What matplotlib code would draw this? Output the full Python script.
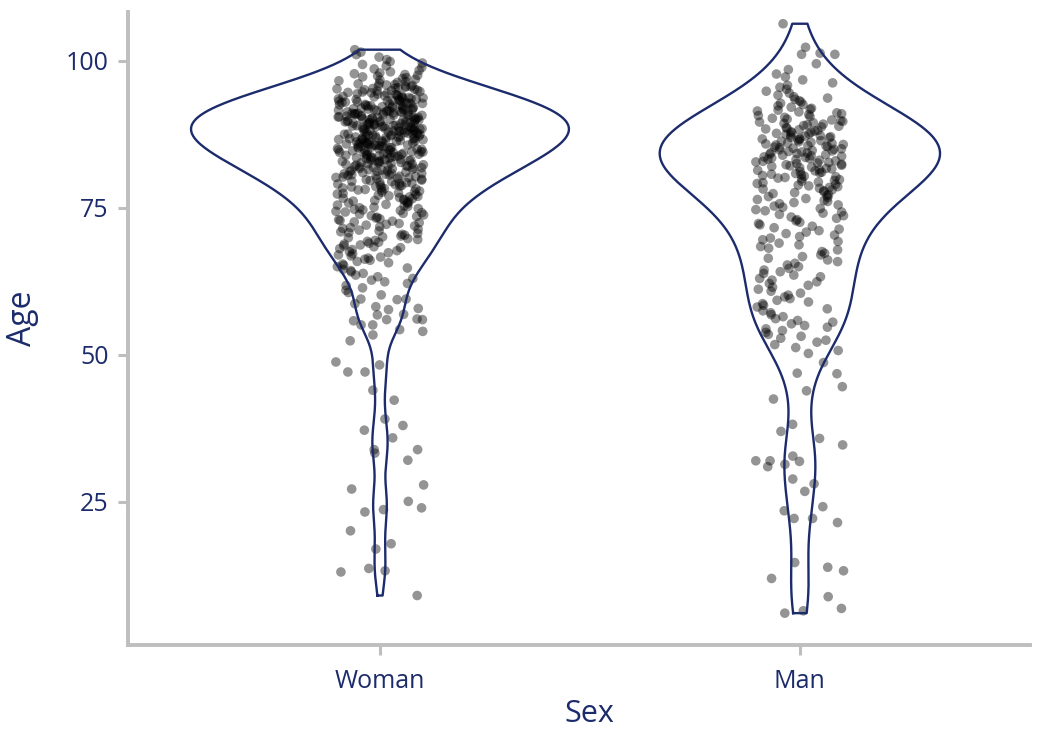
import numpy as np
import matplotlib.pyplot as plt

plt.rcParams['font.family'] = ['Open Sans', 'DejaVu Sans']

navy = '#1c2b6b'
axis_grey = '#bebebe'

groups = ['Woman', 'Man']
bw_adjust = [1.0, 1.0]

# Woman: low ages read one by one, the dense part as counts per age bin
woman_low = [59.5, 59.5, 59.4, 58.7, 58.2, 57.9, 57.7, 56.9, 56.8, 56.1, 56.0, 56.0,
             55.8, 55.1, 55.1, 54.3, 54.0, 53.4, 52.4, 48.8, 48.3, 47.1, 47.1, 44.0,
             42.3, 39.1, 38.0, 37.2, 35.9, 33.9, 33.9, 33.3, 32.1, 27.9, 27.2, 25.1,
             24.0, 23.7, 23.3, 20.1, 17.9, 17.0, 13.7, 13.3, 13.1, 9.1]
woman_edges = [60, 62, 64, 66, 68, 70, 72, 74, 76, 78, 80, 82, 84, 86, 88, 90,
               92, 94, 96, 98, 100, 102.1]
woman_counts = [5, 7, 9, 11, 13, 14, 15, 17, 20, 24, 29, 34, 39, 43, 45, 43,
                36, 27, 15, 8, 5]

# Man
man_low = [48.7, 46.9, 46.8, 44.6, 43.9, 42.5, 38.2, 37.0, 35.8, 34.7, 32.8, 32.0,
           32.0, 31.9, 31.4, 31.0, 28.9, 28.1, 26.8, 24.2, 23.5, 22.2, 22.2, 21.5,
           14.7, 13.9, 13.3, 12.0, 8.9, 6.9, 6.5, 6.1]
man_high = [101.1, 101.1, 101.3, 102.3, 106.3]
man_edges = [50, 52, 54, 56, 58, 60, 62, 64, 66, 68, 70, 72, 74, 76, 78, 80,
             82, 84, 86, 88, 90, 92, 94, 96, 98, 100]
man_counts = [4, 6, 7, 6, 7, 6, 7, 7, 7, 7, 8, 9, 10, 12, 15, 18, 21, 22, 21,
              17, 13, 9, 6, 4, 2]


def expand(edges, counts):
    out = []
    for lo, hi, n in zip(edges[:-1], edges[1:], counts):
        out += list(lo + (np.arange(n) + 0.5) / n * (hi - lo))
    return out


ages = {
    'Woman': np.sort(np.array(woman_low + expand(woman_edges, woman_counts))),
    'Man': np.sort(np.array(man_low + expand(man_edges, man_counts) + man_high)),
}


def kde(v, grid, adjust):
    n = len(v)
    iqr = np.subtract(*np.percentile(v, [75, 25]))
    bw = adjust * 0.9 * min(v.std(ddof=1), iqr / 1.34) * n ** -0.2
    z = (grid[:, None] - v[None, :]) / bw
    return np.exp(-0.5 * z**2).sum(axis=1) / (n * bw * np.sqrt(2 * np.pi))


grids, dens = {}, {}
for g, adj in zip(groups, bw_adjust):
    grids[g] = np.linspace(ages[g].min(), ages[g].max(), 512)
    dens[g] = kde(ages[g], grids[g], adj)
dmax = max(d.max() for d in dens.values())

fig = plt.figure(figsize=(10.41, 7.30), dpi=100)
ax = fig.add_axes((0.123, 0.1164, 0.8664, 0.8672))

for i, g in enumerate(groups):
    pos = i + 1
    v = ages[g]
    k = np.arange(len(v)) + 1 + 7 * i
    u = (np.sin(k * 12.9898) * 43758.5453) % 1  # deterministic jitter
    ax.scatter(pos + (u - 0.5) * 0.21, v, s=48, color='black', alpha=0.42,
               edgecolors='none', zorder=2)
    hw = dens[g] / dmax * 0.45
    gy = grids[g]
    xs = np.concatenate([pos - hw, (pos + hw)[::-1], [pos - hw[0]]])
    ys = np.concatenate([gy, gy[::-1], [gy[0]]])
    ax.plot(xs, ys, color=navy, lw=1.7, zorder=3)

ax.set_xlim(0.4, 2.548)
ax.set_ylim(0.68, 108.3)
ax.set_xticks([1, 2])
ax.set_xticklabels(groups)
ax.set_yticks([25, 50, 75, 100])
for s in ['top', 'right']:
    ax.spines[s].set_visible(False)
for s in ['left', 'bottom']:
    ax.spines[s].set_color(axis_grey)
    ax.spines[s].set_linewidth(2.8)
ax.tick_params(colors=axis_grey, width=2.2, length=7, labelsize=18,
               labelcolor=navy, pad=7)
ax.tick_params(axis='x', pad=10)
ax.set_xlabel('Sex', fontsize=22, color=navy, va='center')
ax.set_ylabel('Age', fontsize=23, color=navy, va='center')
ax.xaxis.set_label_coords(0.512, -0.109)
ax.yaxis.set_label_coords(-0.1175, 0.516)

fig.savefig('out.png', dpi=100)
